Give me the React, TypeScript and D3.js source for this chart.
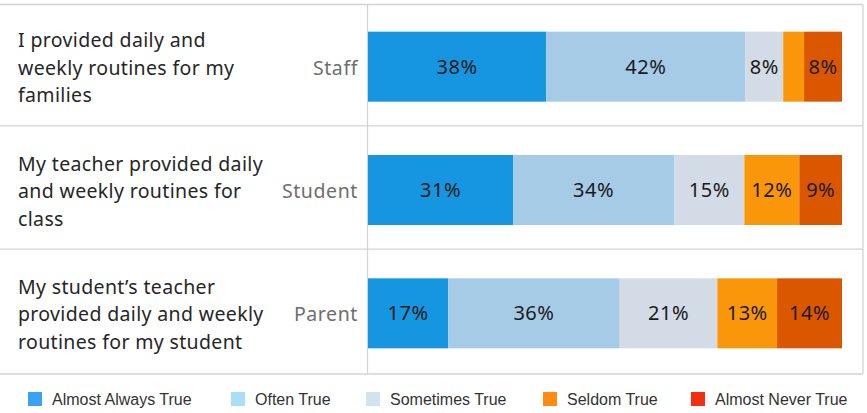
import React from 'react';
import { scaleBand, scaleLinear, scaleOrdinal, sum } from 'd3';

const questions = [
  ['I provided daily and', 'weekly routines for my', 'families'],
  ['My teacher provided daily', 'and weekly routines for', 'class'],
  ['My student\u2019s teacher', 'provided daily and weekly', 'routines for my student'],
];
const groups = ['Staff', 'Student', 'Parent'];
const categories = ['Almost Always True', 'Often True', 'Sometimes True', 'Seldom True', 'Almost Never True'];

// shares (labels show rounded values)
const staff = [37.6, 42.0, 8.0, 4.4, 8.0];
const student = [30.6, 34.0, 14.8, 11.6, 9.0];
const parent = [16.9, 36.2, 20.6, 12.6, 13.7];
const shares = [staff, student, parent];

const barColors = ['#1696e1', '#a5cbe7', '#d3dce6', '#fa960a', '#da5700'];
const legendColors = ['#3aa2f2', '#a9def6', '#d0e3ee', '#ff8b12', '#f2300f'];

const W = 867;
const H = 413;
const splitX = 368;
const barRight = 842;
const frameRight = 863;

const labelFont = "'Noto Sans', sans-serif";

export default function App() {
  const y = scaleBand<string>().domain(groups).range([4, 374]);
  const color = scaleOrdinal<string, string>().domain(categories).range(barColors);
  const legendColor = scaleOrdinal<string, string>().domain(categories).range(legendColors);
  const barH = 70;

  const legendX = [28, 231, 366, 543, 691];

  return (
    <svg width={W} height={H} style={{ position: 'absolute', left: 0, top: 0 }}>
      {/* frame */}
      <g stroke="#d4d4d4" strokeWidth={1.3} fill="none">
        <line x1={0} x2={frameRight} y1={4.5} y2={4.5} />
        {groups.slice(1).map((g) => (
          <line key={g} x1={0} x2={frameRight} y1={y(g)! - 1.5} y2={y(g)! - 1.5} />
        ))}
        <line x1={0} x2={frameRight} y1={374} y2={374} />
        <line x1={splitX - 0.5} x2={splitX - 0.5} y1={4.5} y2={374} />
        <line x1={frameRight} x2={frameRight} y1={4.5} y2={374} />
      </g>

      {groups.map((g, i) => {
        const cy = y(g)! + y.bandwidth() / 2 + 1;
        const total = sum(shares[i]);
        const x = scaleLinear().domain([0, total]).range([splitX, barRight]);
        let acc = 0;
        return (
          <g key={g}>
            {questions[i].map((line, j) => (
              <text
                key={j}
                x={18}
                y={cy + 8 + (j - 1) * 27.5}
                fontFamily={labelFont}
                fontSize={19.5}
                letterSpacing={0.35}
                fill="#262626"
              >
                {line}
              </text>
            ))}
            <text
              x={358}
              y={cy + 8}
              textAnchor="end"
              fontFamily={labelFont}
              fontSize={19.5}
              letterSpacing={0.6}
              fill="#6e6e6e"
            >
              {g}
            </text>
            {shares[i].map((v, k) => {
              const x0 = x(acc);
              acc += v;
              const x1 = x(acc);
              const label = Math.round(v);
              return (
                <g key={k}>
                  <rect x={x0} y={cy - barH / 2} width={x1 - x0} height={barH} fill={color(categories[k])} />
                  {x1 - x0 > 30 && (
                    <text
                      x={(x0 + x1) / 2}
                      y={cy + 7}
                      textAnchor="middle"
                      fontFamily={labelFont}
                      fontSize={20}
                      letterSpacing={0.5}
                      fill="#1a1a1a"
                    >
                      {label}%
                    </text>
                  )}
                </g>
              );
            })}
          </g>
        );
      })}

      {/* legend */}
      {categories.map((c, i) => (
        <g key={c} transform={`translate(${legendX[i]},392)`}>
          <rect x={0} y={0} width={14} height={14} fill={legendColor(c)} />
          <text
            x={24}
            y={12.5}
            fontFamily="'Liberation Sans', Arial, sans-serif"
            fontSize={16}
            fill="#333333"
          >
            {c}
          </text>
        </g>
      ))}
    </svg>
  );
}
